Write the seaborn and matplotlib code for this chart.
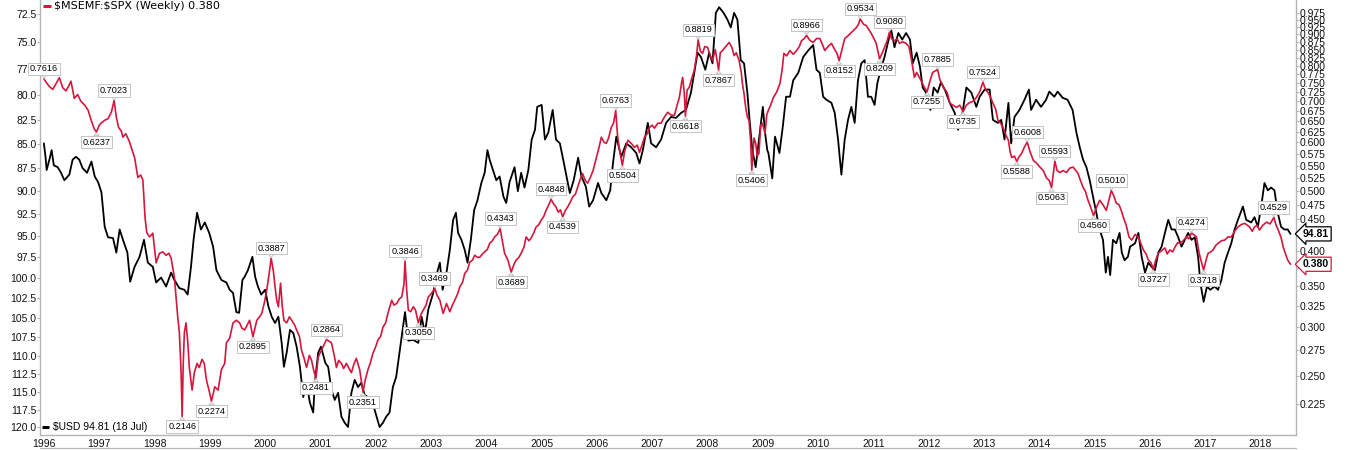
import matplotlib
matplotlib.use("Agg")
import matplotlib.pyplot as plt
from matplotlib.ticker import FixedLocator, NullLocator, FuncFormatter
from matplotlib.lines import Line2D
import pandas as pd
import seaborn as sns

# ---------------- data ----------------
# $MSEMF:$SPX ratio (right axis, log)
ratio_t = [
    1996.00, 1996.05, 1996.10, 1996.16, 1996.22, 1996.28, 1996.34, 1996.40, 1996.45, 1996.49, 1996.55, 1996.61, 1996.67, 1996.74, 1996.80, 1996.86, 1996.91, 1996.95,
    1997.00, 1997.04, 1997.10, 1997.16, 1997.22, 1997.27, 1997.31, 1997.35, 1997.40, 1997.43, 1997.48, 1997.54, 1997.58, 1997.64, 1997.70, 1997.75, 1997.79, 1997.83, 1997.86, 1997.91, 1997.97,
    1998.03, 1998.09, 1998.15, 1998.21, 1998.26, 1998.30, 1998.36, 1998.42, 1998.45, 1998.48, 1998.50, 1998.52, 1998.54, 1998.57, 1998.60, 1998.63, 1998.68, 1998.72, 1998.77, 1998.81, 1998.86, 1998.90, 1998.94, 1998.99,
    1999.03, 1999.09, 1999.15, 1999.21, 1999.27, 1999.30, 1999.36, 1999.42, 1999.48, 1999.54, 1999.58, 1999.63, 1999.68, 1999.72, 1999.78, 1999.82, 1999.85, 1999.90, 1999.94, 1999.99,
    2000.03, 2000.07, 2000.11, 2000.15, 2000.18, 2000.21, 2000.24, 2000.28, 2000.31, 2000.34, 2000.39, 2000.44, 2000.48, 2000.53, 2000.57, 2000.62, 2000.66, 2000.70, 2000.75, 2000.80, 2000.84, 2000.88, 2000.92, 2000.96, 2000.99,
    2001.05, 2001.11, 2001.15, 2001.20, 2001.25, 2001.29, 2001.33, 2001.38, 2001.42, 2001.47, 2001.51, 2001.56, 2001.61, 2001.65, 2001.71, 2001.74, 2001.77, 2001.81, 2001.86, 2001.90, 2001.95,
    2002.00, 2002.04, 2002.09, 2002.13, 2002.18, 2002.22, 2002.26, 2002.29, 2002.33, 2002.38, 2002.43, 2002.47, 2002.51, 2002.53, 2002.56, 2002.59, 2002.63, 2002.68, 2002.72, 2002.77, 2002.82, 2002.86, 2002.91, 2002.95,
    2003.00, 2003.07, 2003.11, 2003.16, 2003.22, 2003.28, 2003.34, 2003.38, 2003.43, 2003.48, 2003.52, 2003.57, 2003.61, 2003.66, 2003.70, 2003.75, 2003.79, 2003.84, 2003.88, 2003.93, 2003.97,
    2004.02, 2004.06, 2004.11, 2004.15, 2004.20, 2004.25, 2004.29, 2004.33, 2004.39, 2004.45, 2004.50, 2004.54, 2004.59, 2004.63, 2004.68, 2004.72, 2004.77, 2004.81, 2004.86, 2004.90, 2004.95, 2004.99,
    2005.04, 2005.08, 2005.13, 2005.17, 2005.22, 2005.26, 2005.30, 2005.34, 2005.38, 2005.43, 2005.47, 2005.52, 2005.56, 2005.61, 2005.65, 2005.69, 2005.74, 2005.79, 2005.83, 2005.88, 2005.93, 2005.99,
    2006.04, 2006.08, 2006.13, 2006.17, 2006.21, 2006.26, 2006.30, 2006.34, 2006.37, 2006.40, 2006.46, 2006.50, 2006.56, 2006.62, 2006.68, 2006.73, 2006.77, 2006.82, 2006.86, 2006.91, 2006.95,
    2007.00, 2007.04, 2007.10, 2007.16, 2007.22, 2007.28, 2007.34, 2007.40, 2007.45, 2007.49, 2007.53, 2007.55, 2007.58, 2007.60, 2007.63, 2007.67, 2007.72, 2007.76, 2007.80, 2007.83, 2007.87, 2007.91, 2007.95,
    2008.00, 2008.05, 2008.09, 2008.14, 2008.20, 2008.23, 2008.27, 2008.33, 2008.39, 2008.44, 2008.48, 2008.52, 2008.57, 2008.61, 2008.63, 2008.66, 2008.69, 2008.72, 2008.75, 2008.78, 2008.80, 2008.84, 2008.87, 2008.90, 2008.93, 2008.96, 2008.99,
    2009.04, 2009.07, 2009.10, 2009.14, 2009.19, 2009.25, 2009.31, 2009.35, 2009.38, 2009.43, 2009.49, 2009.55, 2009.61, 2009.66, 2009.70, 2009.75, 2009.79, 2009.85, 2009.91, 2009.97,
    2010.03, 2010.08, 2010.12, 2010.18, 2010.24, 2010.30, 2010.34, 2010.38, 2010.43, 2010.48, 2010.54, 2010.60, 2010.65, 2010.69, 2010.73, 2010.76, 2010.82, 2010.87, 2010.92, 2010.96,
    2011.01, 2011.05, 2011.08, 2011.11, 2011.16, 2011.20, 2011.25, 2011.29, 2011.33, 2011.38, 2011.43, 2011.47, 2011.53, 2011.59, 2011.64, 2011.68, 2011.71, 2011.74, 2011.78, 2011.83, 2011.88, 2011.92, 2011.97,
    2012.01, 2012.04, 2012.07, 2012.12, 2012.16, 2012.20, 2012.23, 2012.27, 2012.31, 2012.34, 2012.38, 2012.44, 2012.50, 2012.56, 2012.62, 2012.68, 2012.74, 2012.80, 2012.86, 2012.92, 2012.98,
    2013.03, 2013.07, 2013.12, 2013.16, 2013.21, 2013.25, 2013.30, 2013.34, 2013.40, 2013.44, 2013.47, 2013.50, 2013.55, 2013.59, 2013.64, 2013.68, 2013.73, 2013.78, 2013.83, 2013.89, 2013.95,
    2014.01, 2014.07, 2014.13, 2014.18, 2014.22, 2014.26, 2014.28, 2014.32, 2014.37, 2014.43, 2014.49, 2014.55, 2014.61, 2014.66, 2014.70, 2014.74, 2014.79, 2014.83, 2014.88, 2014.93, 2014.98,
    2015.03, 2015.09, 2015.15, 2015.21, 2015.26, 2015.30, 2015.35, 2015.39, 2015.44, 2015.48, 2015.53, 2015.57, 2015.62, 2015.67, 2015.73, 2015.79, 2015.84, 2015.88, 2015.93, 2015.97,
    2016.02, 2016.06, 2016.10, 2016.15, 2016.21, 2016.27, 2016.31, 2016.36, 2016.41, 2016.45, 2016.50, 2016.54, 2016.60, 2016.66, 2016.70, 2016.75, 2016.80, 2016.84, 2016.88, 2016.91, 2016.94, 2016.97,
    2017.01, 2017.05, 2017.10, 2017.14, 2017.19, 2017.23, 2017.29, 2017.35, 2017.41, 2017.47, 2017.53, 2017.59, 2017.65, 2017.71, 2017.76, 2017.80, 2017.85, 2017.89, 2017.94, 2017.98,
    2018.04, 2018.11, 2018.17, 2018.24, 2018.28, 2018.32, 2018.37, 2018.41, 2018.45, 2018.49, 2018.54,
]
ratio_v = [
    0.7616, 0.750, 0.740, 0.732, 0.748, 0.765, 0.737, 0.728, 0.742, 0.755, 0.708, 0.718, 0.700, 0.690, 0.677, 0.650, 0.632, 0.6237,
    0.640, 0.646, 0.652, 0.656, 0.672, 0.7023, 0.660, 0.635, 0.626, 0.612, 0.620, 0.604, 0.589, 0.567, 0.526, 0.531, 0.521, 0.452, 0.428, 0.421, 0.427,
    0.382, 0.396, 0.398, 0.393, 0.396, 0.389, 0.362, 0.312, 0.294, 0.255, 0.2146, 0.262, 0.294, 0.305, 0.285, 0.258, 0.237, 0.253, 0.262, 0.258, 0.266, 0.262, 0.246, 0.236,
    0.2274, 0.240, 0.237, 0.256, 0.262, 0.283, 0.288, 0.305, 0.308, 0.305, 0.299, 0.297, 0.303, 0.308, 0.2895, 0.300, 0.308, 0.312, 0.316, 0.330,
    0.345, 0.365, 0.3887, 0.370, 0.349, 0.332, 0.324, 0.354, 0.325, 0.308, 0.305, 0.312, 0.308, 0.303, 0.297, 0.290, 0.275, 0.268, 0.258, 0.270, 0.265, 0.255, 0.2481, 0.268, 0.272,
    0.279, 0.2864, 0.285, 0.283, 0.270, 0.258, 0.265, 0.262, 0.257, 0.262, 0.258, 0.253, 0.262, 0.267, 0.256, 0.245, 0.2351, 0.246, 0.256, 0.262, 0.272,
    0.279, 0.286, 0.290, 0.300, 0.305, 0.316, 0.325, 0.332, 0.326, 0.328, 0.334, 0.336, 0.352, 0.3846, 0.345, 0.320, 0.318, 0.324, 0.320, 0.3050, 0.315, 0.320, 0.326, 0.336,
    0.340, 0.3469, 0.338, 0.332, 0.316, 0.328, 0.318, 0.325, 0.332, 0.340, 0.349, 0.355, 0.367, 0.372, 0.383, 0.386, 0.393, 0.390, 0.390, 0.395, 0.398,
    0.402, 0.411, 0.415, 0.421, 0.425, 0.4343, 0.415, 0.396, 0.386, 0.3689, 0.380, 0.386, 0.390, 0.396, 0.405, 0.421, 0.415, 0.419, 0.428, 0.437, 0.441, 0.448,
    0.455, 0.465, 0.475, 0.4848, 0.476, 0.471, 0.462, 0.466, 0.4539, 0.465, 0.471, 0.480, 0.489, 0.494, 0.507, 0.520, 0.534, 0.520, 0.515, 0.526, 0.540, 0.567,
    0.590, 0.612, 0.600, 0.598, 0.610, 0.635, 0.645, 0.6763, 0.620, 0.589, 0.5504, 0.580, 0.605, 0.598, 0.589, 0.594, 0.578, 0.596, 0.612, 0.620, 0.635,
    0.640, 0.633, 0.645, 0.645, 0.660, 0.672, 0.665, 0.664, 0.690, 0.710, 0.750, 0.766, 0.720, 0.6618, 0.730, 0.738, 0.766, 0.786, 0.830, 0.8819, 0.845, 0.838, 0.860,
    0.857, 0.830, 0.816, 0.850, 0.7867, 0.840, 0.847, 0.860, 0.873, 0.857, 0.831, 0.840, 0.816, 0.780, 0.749, 0.720, 0.684, 0.660, 0.652, 0.600, 0.5406, 0.610, 0.598, 0.570, 0.576, 0.640, 0.645,
    0.621, 0.665, 0.677, 0.690, 0.710, 0.725, 0.749, 0.790, 0.838, 0.830, 0.847, 0.835, 0.847, 0.860, 0.879, 0.886, 0.8966, 0.880, 0.873, 0.886,
    0.886, 0.865, 0.847, 0.860, 0.870, 0.850, 0.838, 0.8152, 0.850, 0.886, 0.895, 0.906, 0.915, 0.923, 0.935, 0.9534, 0.935, 0.930, 0.915, 0.903,
    0.885, 0.870, 0.845, 0.8209, 0.840, 0.857, 0.880, 0.9080, 0.885, 0.879, 0.885, 0.870, 0.875, 0.870, 0.860, 0.825, 0.795, 0.766, 0.780, 0.766, 0.750, 0.738, 0.7255,
    0.749, 0.765, 0.780, 0.785, 0.7885, 0.760, 0.749, 0.735, 0.729, 0.720, 0.695, 0.690, 0.684, 0.690, 0.6735, 0.690, 0.697, 0.700, 0.710, 0.725, 0.7524,
    0.730, 0.724, 0.710, 0.695, 0.680, 0.652, 0.645, 0.635, 0.615, 0.605, 0.580, 0.567, 0.570, 0.5588, 0.570, 0.576, 0.590, 0.6008, 0.580, 0.561, 0.555,
    0.547, 0.540, 0.525, 0.520, 0.5063, 0.540, 0.5593, 0.540, 0.536, 0.540, 0.536, 0.545, 0.547, 0.540, 0.534, 0.521, 0.507, 0.500, 0.483, 0.470, 0.4560,
    0.470, 0.483, 0.475, 0.465, 0.485, 0.5010, 0.490, 0.478, 0.475, 0.465, 0.450, 0.440, 0.421, 0.416, 0.425, 0.421, 0.410, 0.401, 0.395, 0.386,
    0.382, 0.3727, 0.385, 0.396, 0.400, 0.404, 0.395, 0.401, 0.398, 0.405, 0.412, 0.411, 0.415, 0.421, 0.418, 0.4274, 0.424, 0.421, 0.400, 0.389, 0.380, 0.3718,
    0.385, 0.396, 0.398, 0.401, 0.408, 0.411, 0.415, 0.416, 0.421, 0.421, 0.430, 0.437, 0.441, 0.443, 0.440, 0.437, 0.430, 0.437, 0.440, 0.432,
    0.440, 0.445, 0.442, 0.4529, 0.440, 0.432, 0.420, 0.405, 0.395, 0.386, 0.380,
]

# $USD index (left axis, log, inverted)
usd_t = [
    1996.00, 1996.03, 1996.05, 1996.10, 1996.14, 1996.18, 1996.25, 1996.31, 1996.37, 1996.46, 1996.52, 1996.58, 1996.64, 1996.70, 1996.78, 1996.86, 1996.92, 1996.98,
    1997.04, 1997.10, 1997.16, 1997.25, 1997.31, 1997.37, 1997.43, 1997.51, 1997.56, 1997.64, 1997.73, 1997.81, 1997.88, 1997.97,
    1998.03, 1998.12, 1998.21, 1998.30, 1998.36, 1998.45, 1998.54, 1998.60, 1998.66, 1998.71, 1998.77, 1998.84, 1998.91, 1998.99,
    1999.06, 1999.12, 1999.21, 1999.30, 1999.36, 1999.42, 1999.48, 1999.53, 1999.59, 1999.63, 1999.69, 1999.77, 1999.82, 1999.87, 1999.93,
    2000.00, 2000.06, 2000.12, 2000.18, 2000.24, 2000.30, 2000.34, 2000.39, 2000.45, 2000.51, 2000.57, 2000.63, 2000.69, 2000.75, 2000.81, 2000.87, 2000.90, 2000.96,
    2001.01, 2001.09, 2001.14, 2001.20, 2001.26, 2001.32, 2001.38, 2001.44, 2001.50, 2001.56, 2001.62, 2001.68, 2001.74, 2001.80, 2001.86, 2001.92, 2001.98,
    2002.07, 2002.13, 2002.19, 2002.25, 2002.31, 2002.37, 2002.43, 2002.48, 2002.53, 2002.59, 2002.68, 2002.77, 2002.83, 2002.89, 2002.95,
    2003.04, 2003.11, 2003.16, 2003.21, 2003.28, 2003.34, 2003.40, 2003.45, 2003.49, 2003.55, 2003.61, 2003.66, 2003.72, 2003.78, 2003.84, 2003.91, 2003.97,
    2004.02, 2004.06, 2004.12, 2004.18, 2004.24, 2004.31, 2004.36, 2004.42, 2004.51, 2004.57, 2004.63, 2004.69, 2004.76, 2004.82, 2004.88, 2004.92,
    2005.00, 2005.06, 2005.12, 2005.20, 2005.26, 2005.33, 2005.39, 2005.45, 2005.51, 2005.58, 2005.66, 2005.72, 2005.80, 2005.86, 2005.93,
    2006.02, 2006.08, 2006.17, 2006.24, 2006.29, 2006.35, 2006.44, 2006.53, 2006.62, 2006.71, 2006.77, 2006.83, 2006.92, 2006.98,
    2007.07, 2007.16, 2007.25, 2007.34, 2007.43, 2007.52, 2007.61, 2007.70, 2007.76, 2007.82, 2007.88, 2007.96,
    2008.03, 2008.09, 2008.15, 2008.21, 2008.29, 2008.36, 2008.42, 2008.48, 2008.54, 2008.60, 2008.66, 2008.72, 2008.76, 2008.81, 2008.87, 2008.93,
    2009.00, 2009.04, 2009.08, 2009.10, 2009.17, 2009.22, 2009.30, 2009.36, 2009.42, 2009.49, 2009.55, 2009.64, 2009.73, 2009.82, 2009.91, 2009.97,
    2010.03, 2010.09, 2010.15, 2010.24, 2010.30, 2010.36, 2010.42, 2010.48, 2010.54, 2010.60, 2010.66, 2010.72, 2010.78, 2010.84, 2010.90, 2010.96,
    2011.02, 2011.07, 2011.13, 2011.20, 2011.26, 2011.32, 2011.38, 2011.45, 2011.52, 2011.59, 2011.66, 2011.71, 2011.78, 2011.84, 2011.89, 2011.95,
    2012.03, 2012.09, 2012.16, 2012.22, 2012.29, 2012.38, 2012.47, 2012.53, 2012.59, 2012.68, 2012.77, 2012.86, 2012.92,
    2013.01, 2013.10, 2013.16, 2013.25, 2013.31, 2013.37, 2013.44, 2013.49, 2013.55, 2013.64, 2013.73, 2013.81, 2013.85, 2013.94,
    2014.03, 2014.12, 2014.18, 2014.27, 2014.33, 2014.42, 2014.51, 2014.60, 2014.67, 2014.73, 2014.79, 2014.85, 2014.91, 2014.97,
    2015.03, 2015.09, 2015.15, 2015.20, 2015.24, 2015.28, 2015.33, 2015.39, 2015.45, 2015.49, 2015.54, 2015.60, 2015.64, 2015.73, 2015.79, 2015.85, 2015.91, 2015.97,
    2016.03, 2016.09, 2016.15, 2016.21, 2016.27, 2016.33, 2016.39, 2016.45, 2016.51, 2016.57, 2016.63, 2016.69, 2016.75, 2016.81, 2016.87, 2016.91, 2016.97,
    2017.03, 2017.09, 2017.17, 2017.23, 2017.29, 2017.35, 2017.41, 2017.47, 2017.53, 2017.59, 2017.68, 2017.74, 2017.83, 2017.89, 2017.95,
    2018.01, 2018.07, 2018.13, 2018.19, 2018.25, 2018.31, 2018.37, 2018.43, 2018.49, 2018.54,
]
usd_v = [
    84.9, 86.3, 87.7, 86.6, 85.6, 87.2, 87.4, 88.0, 88.8, 88.2, 86.6, 86.3, 86.6, 87.5, 88.0, 86.8, 88.4, 89.0,
    90.1, 94.0, 95.2, 95.3, 97.0, 94.3, 95.5, 97.0, 100.5, 98.7, 97.5, 95.5, 98.2, 98.7,
    100.6, 100.0, 101.1, 99.4, 100.3, 101.3, 101.5, 102.1, 98.7, 95.3, 92.4, 94.3, 93.5, 94.7,
    96.3, 99.1, 100.3, 100.6, 101.5, 101.9, 104.3, 104.4, 100.3, 99.9, 99.1, 97.5, 99.9, 101.1, 102.1,
    101.5, 103.6, 104.9, 105.7, 104.9, 108.3, 111.5, 109.6, 106.6, 107.0, 108.8, 111.5, 115.7, 113.7, 116.5, 117.9, 113.7, 109.6,
    108.8, 111.0, 111.5, 114.7, 116.1, 115.1, 118.5, 119.4, 120.0, 115.1, 113.3, 114.3, 113.7, 115.4, 115.7, 116.1, 117.5,
    120.0, 119.4, 118.5, 117.9, 114.3, 112.9, 109.6, 107.0, 104.3, 108.0, 107.9, 108.3, 104.9, 107.0, 104.0,
    101.9, 99.4, 98.2, 101.5, 99.4, 96.7, 93.2, 92.4, 94.7, 95.5, 96.7, 98.2, 95.5, 92.1, 91.0, 89.1, 88.0,
    85.6, 86.6, 87.7, 88.8, 88.4, 90.6, 91.3, 89.0, 87.4, 90.0, 88.0, 89.6, 87.7, 84.5, 83.5, 81.2,
    81.0, 84.5, 83.8, 81.5, 84.5, 84.9, 86.6, 88.4, 90.2, 88.8, 86.4, 88.4, 89.5, 91.7, 91.0,
    89.1, 90.2, 91.0, 89.9, 87.0, 84.2, 86.3, 84.9, 85.3, 85.9, 87.0, 85.6, 82.8, 84.9,
    85.3, 84.5, 82.8, 82.2, 82.3, 81.8, 81.5, 79.8, 77.9, 76.0, 76.4, 77.6,
    76.0, 77.0, 72.4, 71.9, 72.4, 73.0, 73.7, 72.4, 73.0, 76.7, 77.0, 79.8, 82.5, 85.6, 87.4, 84.5,
    81.2, 83.8, 85.6, 85.9, 88.6, 84.2, 85.9, 83.2, 80.2, 80.2, 78.6, 77.9, 76.4, 75.8, 75.3, 77.6,
    77.9, 80.2, 80.5, 80.8, 81.8, 84.5, 88.2, 84.5, 82.5, 81.2, 82.8, 78.6, 77.0, 76.7, 80.2, 80.2,
    81.0, 78.9, 77.6, 76.4, 75.1, 73.9, 75.5, 74.2, 74.8, 74.2, 74.8, 77.0, 76.0, 77.3, 79.3, 79.8,
    81.5, 79.3, 79.8, 78.8, 79.5, 80.8, 81.8, 83.5, 82.5, 79.3, 79.8, 81.2, 80.2,
    79.5, 79.5, 82.5, 82.8, 82.5, 84.5, 80.8, 84.9, 82.2, 81.5, 80.5, 79.5, 81.5, 80.5,
    81.2, 80.5, 79.7, 80.2, 79.7, 80.3, 80.5, 81.5, 83.8, 85.3, 86.6, 87.4, 88.8, 90.6,
    92.4, 94.3, 95.5, 99.4, 97.5, 99.7, 95.5, 95.9, 94.7, 97.0, 97.9, 97.5, 96.3, 95.9, 94.7, 97.5, 99.4, 98.2,
    98.7, 99.1, 97.0, 96.3, 94.7, 93.2, 94.3, 94.3, 95.2, 96.3, 95.5, 94.7, 95.5, 95.2, 97.5, 100.6, 103.0,
    101.1, 101.5, 101.1, 101.5, 100.3, 98.2, 97.0, 95.9, 94.3, 93.2, 91.7, 93.2, 93.5, 92.9, 94.0,
    91.7, 89.1, 89.9, 89.6, 89.9, 92.4, 94.0, 94.3, 94.3, 94.81,
]

# peak / trough labels on the ratio line
label_t = [1996.00, 1996.95, 1997.27, 1998.50, 1999.03, 1999.78, 2000.11, 2000.92, 2001.11, 2001.77,
           2002.53, 2002.77, 2003.07, 2004.25, 2004.45, 2005.17, 2005.38, 2006.34, 2006.46, 2007.60,
           2007.83, 2008.20, 2008.80, 2009.79, 2010.38, 2010.76, 2011.11, 2011.29, 2011.97, 2012.16,
           2012.62, 2012.98, 2013.59, 2013.78, 2014.22, 2014.28, 2014.98, 2015.30, 2016.06, 2016.75,
           2016.97, 2018.24]
label_v = [0.7616, 0.6237, 0.7023, 0.2146, 0.2274, 0.2895, 0.3887, 0.2481, 0.2864, 0.2351,
           0.3846, 0.3050, 0.3469, 0.4343, 0.3689, 0.4848, 0.4539, 0.6763, 0.5504, 0.6618,
           0.8819, 0.7867, 0.5406, 0.8966, 0.8152, 0.9534, 0.8209, 0.9080, 0.7255, 0.7885,
           0.6735, 0.7524, 0.5588, 0.6008, 0.5063, 0.5593, 0.4560, 0.5010, 0.3727, 0.4274,
           0.3718, 0.4529]
label_side = ["top", "bot", "top", "bot", "bot", "bot", "top", "bot", "top", "bot",
              "top", "bot", "top", "top", "bot", "top", "bot", "top", "bot", "bot",
              "top", "bot", "bot", "top", "bot", "top", "bot", "top", "bot", "top",
              "bot", "top", "bot", "top", "bot", "top", "bot", "top", "bot", "top",
              "bot", "top"]

year_ticks = [1996, 1997, 1998, 1999, 2000, 2001, 2002, 2003, 2004, 2005, 2006, 2007,
              2008, 2009, 2010, 2011, 2012, 2013, 2014, 2015, 2016, 2017, 2018]
usd_ticks = [72.5, 75.0, 77.5, 80.0, 82.5, 85.0, 87.5, 90.0, 92.5, 95.0, 97.5, 100.0,
             102.5, 105.0, 107.5, 110.0, 112.5, 115.0, 117.5, 120.0]
ratio_ticks = [0.225, 0.250, 0.275, 0.300, 0.325, 0.350, 0.375, 0.400, 0.425, 0.450,
               0.475, 0.500, 0.525, 0.550, 0.575, 0.600, 0.625, 0.650, 0.675, 0.700,
               0.725, 0.750, 0.775, 0.800, 0.825, 0.850, 0.875, 0.900, 0.925, 0.950, 0.975]
# ratio tick labels hidden behind the last-value boxes in the reference
ratio_hidden = [0.375, 0.425]

ratio_last = 0.380
usd_last = 94.81

assert len(ratio_t) == len(ratio_v)
assert len(usd_t) == len(usd_v)

# ---------------- style ----------------
sns.set_style("white")
plt.rcParams["font.family"] = ["Liberation Sans", "DejaVu Sans"]

RED = "#d4173c"
GRID = "#b4b4b4"

fig = plt.figure(figsize=(13.56, 4.5), dpi=100)
ax = fig.add_axes([40 / 1356, 15 / 450, 1256 / 1356, 435 / 450])
ax2 = ax.twinx()

df_usd = pd.DataFrame({"t": usd_t, "v": usd_v})
df_ratio = pd.DataFrame({"t": ratio_t, "v": ratio_v})

sns.lineplot(data=df_usd, x="t", y="v", ax=ax, color="black", linewidth=1.3,
             estimator=None, sort=False)
sns.lineplot(data=df_ratio, x="t", y="v", ax=ax2, color=RED, linewidth=1.2,
             estimator=None, sort=False)

# x axis
ax.set_xlim(1995.93, 2018.64)
ax.set_xticks(year_ticks)
ax.set_xticklabels([str(y) for y in year_ticks])
ax.set_xlabel("")
ax.set_ylabel("")
ax2.set_ylabel("")

# left axis: USD, log, inverted
ax.set_yscale("log")
ax.set_ylim(121.18, 71.27)
ax.yaxis.set_major_locator(FixedLocator(usd_ticks))
ax.yaxis.set_minor_locator(NullLocator())
ax.yaxis.set_major_formatter(FuncFormatter(lambda v, p: f"{v:.1f}"))

# right axis: ratio, log
ax2.set_yscale("log")
ax2.set_ylim(0.2003, 1.0237)
ax2.yaxis.set_major_locator(FixedLocator(ratio_ticks))
ax2.yaxis.set_minor_locator(NullLocator())


def ratio_fmt(v, p):
    if any(abs(v - h) < 1e-6 for h in ratio_hidden):
        return ""
    return f"{v:.3f}"


ax2.yaxis.set_major_formatter(FuncFormatter(ratio_fmt))

for a in (ax, ax2):
    for s in a.spines.values():
        s.set_color(GRID)
        s.set_linewidth(1.0)
    a.spines["top"].set_visible(False)
ax.spines["right"].set_visible(False)
ax2.spines["left"].set_visible(False)
ax2.spines["bottom"].set_visible(False)

ax.tick_params(axis="y", which="major", direction="out", length=2, width=0.8,
               color=GRID, labelsize=7.5, pad=0.5, labelcolor="#111111")
ax.tick_params(axis="x", which="major", direction="out", length=2, width=0.8,
               color=GRID, labelsize=7.5, pad=1.0, labelcolor="#111111")
ax2.tick_params(axis="y", which="major", direction="out", length=2, width=0.8,
                color=GRID, labelsize=7.5, pad=0.8, labelcolor="#111111")

# peak / trough labels
for t, v, side in zip(label_t, label_v, label_side):
    off = 7.2 if side == "top" else -7.2
    ax2.annotate(f"{v:.4f}", xy=(t, v), xytext=(0, off), textcoords="offset points",
                 ha="center", va="center", fontsize=6.6, color="black",
                 bbox=dict(boxstyle="square,pad=0.18", fc="white", ec="#c4c4c4", lw=0.7),
                 arrowprops=dict(arrowstyle="wedge,tail_width=0.55,shrink_factor=0.5",
                                 fc="white", ec="#c4c4c4", lw=0.7,
                                 shrinkA=0, shrinkB=0.5),
                 zorder=6, annotation_clip=False)

# last-value boxes on the right axis
ax2.annotate(f"{usd_last:.2f}", xy=(1, usd_last), xycoords=ax.get_yaxis_transform(),
             xytext=(5, 0), textcoords="offset points", ha="left", va="center",
             fontsize=7.5, fontweight="bold", color="black",
             bbox=dict(boxstyle="larrow,pad=0.2", fc="white", ec="black", lw=0.9),
             zorder=10, annotation_clip=False)
ax2.annotate(f"{ratio_last:.3f}", xy=(1, ratio_last), xycoords=ax2.get_yaxis_transform(),
             xytext=(5, 0), textcoords="offset points", ha="left", va="center",
             fontsize=7.5, fontweight="bold", color="black",
             bbox=dict(boxstyle="larrow,pad=0.2", fc="white", ec=RED, lw=0.9),
             zorder=10, annotation_clip=False)

# legends (text entries like the reference); dollar signs escaped (no mathtext)
ax2.add_line(Line2D([0.0024, 0.0088], [0.986, 0.986], transform=ax2.transAxes,
                    color=RED, lw=2.2, solid_capstyle="butt", clip_on=False))
ax2.text(0.0112, 0.986, r"\$MSEMF:\$SPX (Weekly) 0.380", transform=ax2.transAxes,
         fontsize=8, family="DejaVu Sans", va="center", ha="left", color="black")
ax2.add_line(Line2D([0.0016, 0.0072], [0.0184, 0.0184], transform=ax2.transAxes,
                    color="black", lw=2.2, solid_capstyle="butt", clip_on=False))
ax2.text(0.0100, 0.0184, r"\$USD 94.81 (18 Jul)", transform=ax2.transAxes,
         fontsize=7.5, va="center", ha="left", color="black")

# thin frame line under the year labels
fig.add_artist(Line2D([40 / 1356, 1296 / 1356], [1 - 448 / 450, 1 - 448 / 450],
                      transform=fig.transFigure, color=GRID, lw=0.9))

fig.savefig("out.png", dpi=100)
